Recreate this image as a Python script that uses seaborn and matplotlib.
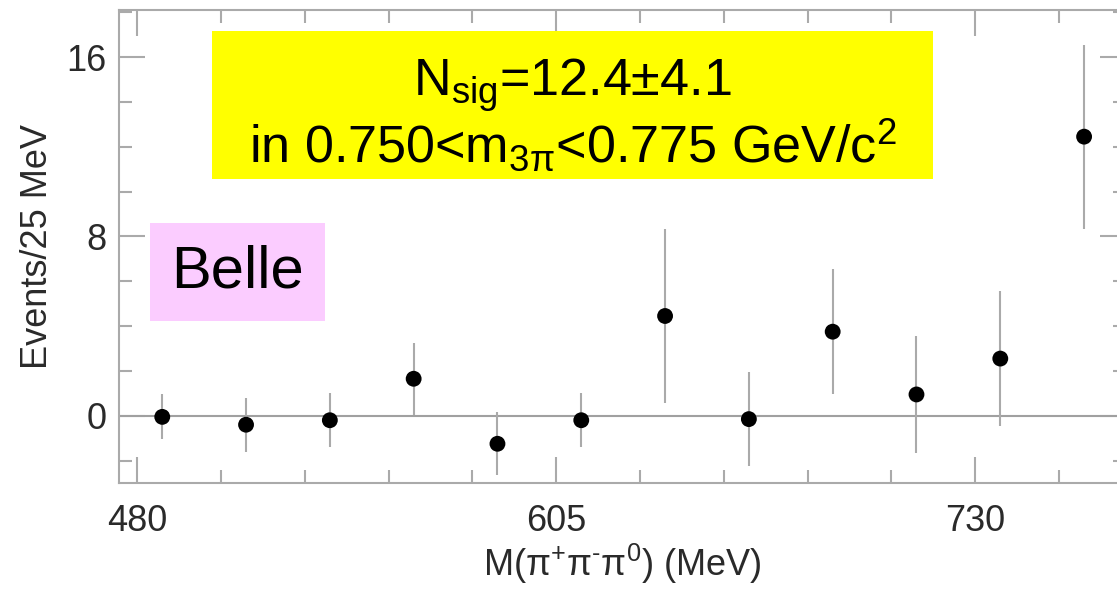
import numpy as np
import pandas as pd
import matplotlib
matplotlib.use("Agg")
import matplotlib.pyplot as plt
from matplotlib.ticker import MultipleLocator
from matplotlib.patches import Rectangle
import seaborn as sns

# ---- data ----
mass_mev = [487.5, 512.5, 537.5, 562.5, 587.5, 612.5, 637.5, 662.5, 687.5, 712.5, 737.5, 762.5]
events = [-0.05, -0.4, -0.2, 1.65, -1.25, -0.2, 4.45, -0.15, 3.75, 0.95, 2.55, 12.45]
errors = [1.0, 1.2, 1.2, 1.6, 1.4, 1.2, 3.9, 2.1, 2.8, 2.6, 3.0, 4.1]
x_major_ticks = [480, 605, 730]
y_major_ticks = [0, 8, 16]

sig_text = "N$\\mathregular{_{sig}}$=12.4±4.1"
range_text = "in 0.750<m$\\mathregular{_{3π}}$<0.775 GeV/c$\\mathregular{^2}$"
exp_text = "Belle"
xlabel = "M(π$\\mathregular{^{+}}$π$\\mathregular{^{\\text{-}}}$π$\\mathregular{^{0}}$) (MeV)"
ylabel = "Events/25 MeV"

df = pd.DataFrame({"mass": mass_mev, "events": events, "err": errors})

sns.set_theme(style="ticks")
plt.rcParams["font.family"] = ["Liberation Sans", "DejaVu Sans"]
plt.rcParams["mathtext.fontset"] = "custom"
plt.rcParams["mathtext.rm"] = "Liberation Sans"

fig = plt.figure(figsize=(11.17, 5.89), dpi=100)
ax = fig.add_axes([119 / 1117, (589 - 483) / 589, (1126 - 119) / 1117, (483 - 10) / 589])

spine_col = "#aaaaaa"
text_col = "#2a2a2a"
ax.axhline(0, color="#a0a0a0", lw=1.5, zorder=1)
ax.errorbar(df["mass"], df["events"], yerr=df["err"], fmt="none",
            ecolor="#aaaaaa", elinewidth=1.5, capsize=0, zorder=2)
sns.scatterplot(data=df, x="mass", y="events", ax=ax, color="black",
                s=130, edgecolor="none", zorder=3, legend=False)

ax.set_xlim(474.6, 775)
ax.set_ylim(-3.0, 18.1)

ax.set_xticks(x_major_ticks)
ax.set_yticks(y_major_ticks)
ax.xaxis.set_minor_locator(MultipleLocator(25, offset=5))
ax.yaxis.set_minor_locator(MultipleLocator(2))

for sp in ax.spines.values():
    sp.set_color(spine_col)
    sp.set_linewidth(1.5)

ax.tick_params(which="both", direction="in", top=True, right=True,
               color=spine_col, width=1.5, labelcolor=text_col, labelsize=26)
ax.tick_params(which="major", length=19)
ax.tick_params(which="minor", length=9.5)
ax.tick_params(axis="x", which="major", pad=15)
ax.tick_params(axis="y", which="major", pad=9)

ax.set_xlabel(xlabel, fontsize=26, color=text_col, labelpad=2)
ax.set_ylabel(ylabel, fontsize=26, color=text_col, labelpad=8)

# annotation boxes (axes fraction)
ax.add_patch(Rectangle((0.0924, 0.643), 0.808 - 0.0924, 0.9556 - 0.643,
                       transform=ax.transAxes, facecolor="#ffff00",
                       edgecolor="none", zorder=4))
ax.text(0.4503, 0.818, sig_text, transform=ax.transAxes, ha="center",
        va="baseline", fontsize=37.5, color="black", zorder=5)
ax.text(0.4503, 0.6765, range_text, transform=ax.transAxes, ha="center",
        va="baseline", fontsize=37.5, color="black", zorder=5)

ax.add_patch(Rectangle((0.0308, 0.3425), 0.2046 - 0.0308, 0.5497 - 0.3425,
                       transform=ax.transAxes, facecolor="#fbccff",
                       edgecolor="none", zorder=4))
ax.text(0.1177, 0.446, exp_text, transform=ax.transAxes, ha="center",
        va="center", fontsize=43, color="black", zorder=5)

fig.savefig("out.png", dpi=100)
